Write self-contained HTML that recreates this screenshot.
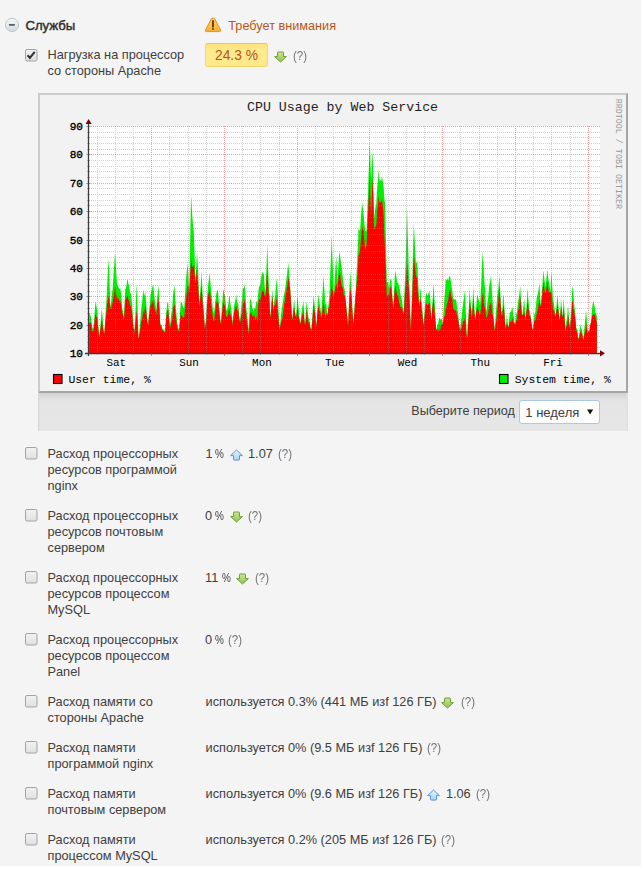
<!DOCTYPE html>
<html><head><meta charset="utf-8"><title>Службы</title>
<style>
html,body{margin:0;padding:0}
body{width:641px;height:869px;overflow:hidden;position:relative;background:#fff;font-family:"Liberation Sans",sans-serif}
.page{position:absolute;left:0;top:0;width:641px;height:866px;background:#f4f4f4}
.t{position:absolute;white-space:nowrap}
.ab{position:absolute}
.chart{position:absolute;left:0;top:0}
</style></head>
<body><div class="page"></div>
<svg class="ab" style="left:4px;top:17px" width="16" height="16" viewBox="0 0 16 16"><defs><linearGradient id="mg" x1="0" y1="0" x2="0" y2="1"><stop offset="0" stop-color="#f4f7f9"/><stop offset="1" stop-color="#d3dbe1"/></linearGradient></defs><circle cx="8" cy="7.9" r="6.6" fill="url(#mg)" stroke="#bcc6ce" stroke-width="1"/><rect x="5" y="7" width="5.8" height="1.8" fill="#5a626b"/></svg><div class="t " style="left:25.40px;top:17.63px;font-size:13.2px;line-height:16px;color:#2f2f2f;font-weight:normal;-webkit-text-stroke:0.45px #2f2f2f;">Службы</div>
<svg class="ab" style="left:204px;top:17px" width="18" height="16" viewBox="0 0 18 16"><defs><linearGradient id="wg" x1="0" y1="0" x2="0" y2="1"><stop offset="0" stop-color="#fdd86c"/><stop offset="1" stop-color="#f3ad36"/></linearGradient></defs><path d="M7.4,1.6 Q9,0.4 10.6,1.6 L16.6,13.2 Q16.8,14.6 15.6,14.6 H2.4 Q1.2,14.6 1.4,13.2 Z" fill="url(#wg)" stroke="#e1931f" stroke-width="1"/><rect x="8.1" y="3.3" width="1.8" height="7" fill="#7a2a05"/><rect x="8.1" y="11.2" width="1.8" height="1.5" fill="#6a2000"/></svg><div class="t " style="left:228.30px;top:17.80px;font-size:12.7px;line-height:16px;color:#b9581a;font-weight:normal;">Требует внимания</div>
<svg class="ab" style="left:25px;top:49px" width="13" height="13" viewBox="0 0 13 13"><defs><linearGradient id="cb25_49" x1="0" y1="0" x2="0" y2="1"><stop offset="0" stop-color="#f2f2f2"/><stop offset="1" stop-color="#e0e0e0"/></linearGradient></defs><rect x="0.5" y="0.5" width="11.5" height="11.5" rx="1.6" fill="url(#cb25_49)" stroke="#a2a2a2" stroke-width="1"/><path d="M2.6,6.3 L4.9,8.9 L9.7,2.9" stroke="#333" stroke-width="2.1" fill="none" stroke-linecap="butt" stroke-linejoin="miter"/></svg><div class="t " style="left:47.50px;top:47.48px;font-size:12.75px;line-height:16px;color:#404040;font-weight:normal;">Нагрузка на процессор</div>
<div class="t " style="left:47.50px;top:63.48px;font-size:12.75px;line-height:16px;color:#404040;font-weight:normal;">со стороны Apache</div>
<div class="ab" style="left:205px;top:43px;width:61px;height:22px;background:linear-gradient(#ffe27a,#ffea8e 30%,#ffe98a);border:1px solid #f6d66e;border-top-color:#efc24a;border-radius:3px"></div><div class="t " style="left:215.00px;top:47.62px;font-size:13.8px;line-height:16px;color:#bb5414;font-weight:normal;">24.3 %</div>
<svg class="ab" style="left:274px;top:51px" width="14" height="13" viewBox="0 0 14 13"><defs><linearGradient id="dg274_51" x1="0" y1="0" x2="0" y2="1"><stop offset="0" stop-color="#cbe795"/><stop offset="1" stop-color="#8fc252"/></linearGradient></defs><path d="M3.5,1.6 Q3.5,1 4.2,1 H8.8 Q9.5,1 9.5,1.6 V5.6 H12.4 L6.5,11 L0.6,5.6 H3.5 Z" fill="url(#dg274_51)" stroke="#6f9d36" stroke-width="1" stroke-linejoin="round"/></svg><div class="t " style="left:292.60px;top:47.98px;font-size:12.75px;line-height:16px;color:#707378;font-weight:normal;transform:scaleX(0.9);transform-origin:0 0;">(?)</div>
<svg class="chart" width="641" height="869" viewBox="0 0 641 869">
<defs><linearGradient id="pshade" x1="0" y1="0" x2="0" y2="1"><stop offset="0" stop-color="#d2d2d2"/><stop offset="0.2" stop-color="#e4e4e4"/><stop offset="1" stop-color="#e7e7e7"/></linearGradient></defs>
<rect x="38" y="93" width="590" height="338" fill="#e6e6e6"/>
<rect x="38" y="393" width="590" height="38" fill="url(#pshade)"/>
<rect x="38" y="393" width="1.5" height="38" fill="#dadada"/><rect x="626.5" y="393" width="1.5" height="38" fill="#e0e0e0"/>
<rect x="38" y="93" width="590" height="300" fill="#a5a5a5"/>
<path d="M38,93 H628 L626,95 H40 V391 L38,393 Z" fill="#cbcbcb"/>
<rect x="40" y="95" width="586" height="296" fill="#f2f2f2"/>
<rect x="89.0" y="126.0" width="511.0" height="227.0" fill="#ffffff"/>
<defs><filter id="soft" x="-2%" y="-2%" width="104%" height="104%"><feGaussianBlur stdDeviation="0.35"/></filter><clipPath id="pc"><rect x="89.0" y="106.0" width="511.0" height="247.0"/></clipPath></defs>
<g clip-path="url(#pc)"><g filter="url(#soft)"><path d="M89.2,353.0 L89.2,313.2 L89.9,313.8 L90.2,314.7 L91.2,318.0 L92.2,327.3 L93.0,328.8 L93.2,329.2 L94.2,318.5 L95.2,304.7 L96.0,301.0 L96.2,304.4 L97.2,310.8 L98.2,323.8 L99.2,337.6 L99.2,337.5 L100.2,327.7 L101.2,315.8 L101.8,308.8 L102.2,312.0 L103.2,325.2 L104.2,333.1 L104.2,335.0 L105.2,318.6 L106.2,304.2 L106.8,293.8 L107.2,284.3 L108.2,265.2 L108.6,258.8 L109.2,272.4 L110.2,300.7 L110.5,307.5 L111.2,302.1 L112.2,289.6 L112.4,292.5 L113.2,279.9 L114.2,265.7 L114.9,253.8 L115.2,254.3 L116.2,271.5 L117.2,285.7 L117.4,285.0 L118.2,286.6 L119.2,289.3 L120.2,288.5 L120.5,290.0 L121.2,294.4 L122.2,308.6 L123.2,311.8 L123.6,318.8 L124.2,312.5 L125.2,289.3 L125.5,288.8 L126.2,287.1 L127.2,280.3 L128.0,280.0 L128.2,283.3 L129.2,285.9 L130.2,293.3 L131.1,293.8 L131.2,296.2 L132.2,304.7 L133.2,323.4 L134.2,329.6 L134.2,335.0 L135.2,317.4 L136.2,294.6 L136.8,283.8 L137.2,294.2 L138.2,328.1 L138.6,338.8 L139.2,333.0 L140.2,321.7 L141.2,309.2 L142.2,302.2 L143.0,291.2 L143.2,289.6 L144.2,296.3 L145.2,291.5 L145.5,295.0 L146.2,303.1 L147.2,318.5 L148.0,325.0 L148.2,325.1 L149.2,308.9 L150.2,301.1 L150.5,295.0 L151.2,292.6 L152.2,287.7 L153.0,283.8 L153.2,285.0 L154.2,294.7 L155.2,303.2 L156.1,308.8 L156.2,312.2 L157.2,297.4 L158.2,288.8 L158.6,285.0 L159.2,296.9 L160.2,322.7 L160.5,325.0 L161.2,323.7 L162.2,328.7 L163.2,328.6 L164.2,331.8 L164.2,331.2 L165.2,327.9 L166.2,312.2 L167.2,303.8 L167.4,302.5 L168.2,302.6 L169.2,318.5 L170.2,324.0 L171.2,314.9 L172.2,307.9 L173.2,293.3 L174.2,287.2 L174.5,285.3 L175.2,297.3 L176.2,310.9 L177.2,322.2 L178.2,327.8 L179.0,329.6 L179.2,326.9 L180.2,310.6 L180.9,300.0 L181.2,302.5 L182.2,303.2 L183.2,308.4 L183.7,307.4 L184.2,307.5 L185.2,291.5 L186.2,277.8 L187.2,266.1 L187.4,263.2 L188.2,272.1 L189.2,290.8 L190.2,239.9 L191.0,196.8 L191.2,197.0 L192.2,214.6 L193.2,227.6 L193.8,231.9 L194.2,242.9 L195.2,272.2 L195.6,281.6 L196.2,267.1 L197.1,250.3 L197.2,255.0 L198.2,273.6 L199.2,302.9 L199.3,305.6 L200.2,292.2 L201.2,278.7 L201.5,270.6 L202.2,285.2 L203.2,303.3 L204.2,315.8 L204.9,329.6 L205.2,326.1 L206.2,316.6 L207.2,295.9 L208.2,284.5 L209.2,276.8 L209.5,272.4 L210.2,280.1 L211.2,291.2 L212.2,301.9 L213.2,313.0 L214.2,311.5 L215.2,301.9 L216.2,294.4 L217.2,289.4 L217.8,290.8 L218.2,292.7 L219.2,306.7 L220.2,317.4 L220.5,322.2 L221.2,317.8 L222.2,303.2 L223.2,289.8 L223.3,289.0 L224.2,293.2 L225.2,296.7 L226.2,308.5 L227.0,311.1 L227.2,310.1 L228.2,305.2 L229.2,296.1 L229.8,296.4 L230.2,302.5 L231.2,308.7 L232.2,317.6 L232.5,324.0 L233.2,315.8 L234.2,305.3 L235.2,301.1 L236.2,294.5 L237.2,303.1 L238.2,303.5 L239.2,316.1 L239.9,320.3 L240.2,318.7 L241.2,307.2 L242.2,297.5 L242.7,289.0 L243.2,288.5 L244.2,286.4 L244.5,283.5 L245.2,290.9 L246.2,307.3 L247.2,315.5 L248.2,323.9 L248.7,331.7 L249.2,322.6 L250.0,297.2 L250.2,299.3 L251.2,300.4 L252.2,307.3 L253.2,310.9 L253.5,312.3 L254.2,307.9 L255.2,308.9 L256.2,301.9 L257.0,301.3 L257.2,305.6 L258.2,293.6 L259.0,286.1 L259.2,286.7 L260.2,285.1 L261.1,277.8 L261.2,277.5 L262.2,271.4 L263.2,274.4 L263.9,272.3 L264.2,280.6 L265.2,292.3 L265.3,297.2 L266.2,274.2 L267.2,246.4 L267.3,244.7 L268.2,272.0 L269.2,289.8 L270.1,315.1 L270.2,317.6 L271.2,305.4 L272.2,288.9 L273.2,302.8 L273.6,311.0 L274.2,300.4 L275.2,295.2 L276.2,284.0 L277.0,277.8 L277.2,282.9 L278.2,303.7 L279.2,322.1 L279.5,328.9 L280.2,323.2 L281.2,313.4 L282.2,306.2 L282.5,304.0 L283.2,299.9 L284.2,293.7 L285.2,289.0 L285.3,287.5 L286.2,281.1 L287.2,272.9 L288.0,265.4 L288.2,262.8 L289.2,272.8 L289.4,276.4 L290.2,286.3 L291.2,301.7 L292.2,319.3 L293.2,309.2 L294.2,299.1 L294.3,299.9 L295.2,311.7 L295.7,316.5 L296.2,314.2 L297.2,299.9 L297.7,294.4 L298.2,303.8 L299.2,314.1 L300.2,323.4 L301.2,315.5 L302.2,307.6 L303.2,302.0 L303.3,299.9 L304.2,312.7 L304.9,323.4 L305.2,322.4 L306.2,307.6 L306.7,301.3 L307.2,304.8 L308.2,316.3 L308.8,319.3 L309.2,318.2 L310.2,325.1 L311.2,329.6 L311.5,328.9 L312.2,319.3 L313.2,301.4 L313.6,294.4 L314.2,300.7 L315.2,310.3 L316.2,323.9 L316.4,326.2 L317.2,312.5 L318.2,296.1 L318.4,294.4 L319.2,301.2 L320.2,306.3 L321.2,313.7 L322.2,299.3 L323.2,279.2 L323.3,275.0 L324.2,287.0 L325.2,303.0 L325.4,304.0 L326.2,302.7 L327.2,311.9 L328.0,313.4 L328.2,307.0 L329.2,298.0 L329.3,298.2 L330.2,275.0 L331.2,250.6 L331.8,233.7 L332.2,250.6 L333.2,278.3 L333.7,298.2 L334.2,287.2 L335.2,272.2 L336.2,255.1 L337.2,276.6 L337.5,281.7 L338.2,267.8 L339.2,254.1 L339.4,251.3 L340.2,256.5 L341.2,264.9 L341.3,264.0 L342.2,272.0 L343.2,280.9 L343.8,286.8 L344.2,287.3 L345.2,292.8 L345.7,299.4 L346.2,305.2 L347.2,315.3 L348.0,324.7 L348.2,320.8 L349.2,294.9 L350.2,270.3 L351.2,286.9 L352.0,300.7 L352.2,306.2 L353.2,322.5 L353.3,326.0 L354.2,312.0 L355.2,295.7 L355.8,289.3 L356.2,279.7 L357.2,260.6 L357.7,248.8 L358.2,239.5 L358.4,228.6 L359.2,230.5 L360.2,229.8 L360.3,227.3 L361.2,213.7 L362.2,202.0 L363.2,211.8 L363.4,212.2 L364.2,220.9 L365.2,231.8 L365.3,231.1 L366.2,231.4 L366.6,229.9 L367.2,214.2 L368.2,187.7 L368.5,176.7 L369.2,158.8 L369.8,142.5 L370.2,153.8 L371.0,178.0 L371.2,177.2 L372.2,156.3 L372.6,151.4 L373.2,177.8 L374.2,218.5 L375.2,208.9 L375.8,205.8 L376.2,204.2 L377.2,188.0 L378.2,177.5 L378.6,169.1 L379.2,176.4 L379.9,181.8 L380.2,179.5 L381.2,181.2 L381.8,176.7 L382.2,177.6 L383.2,185.0 L383.7,188.1 L384.2,197.3 L385.0,203.3 L385.2,210.5 L386.2,253.6 L386.9,283.0 L387.2,282.2 L388.2,281.8 L388.8,286.8 L389.2,288.4 L390.2,278.5 L391.2,280.8 L391.3,277.9 L392.2,292.2 L393.2,308.3 L394.2,288.0 L395.1,270.3 L395.2,270.9 L396.2,275.7 L397.2,282.0 L397.6,283.0 L398.2,282.8 L399.2,286.7 L400.0,290.2 L400.2,293.2 L401.2,296.7 L402.2,302.0 L403.2,311.1 L403.5,312.3 L404.2,298.1 L405.2,273.2 L405.5,268.1 L406.2,243.3 L406.9,206.2 L407.2,215.1 L408.2,250.0 L409.0,276.4 L409.2,281.4 L410.2,309.7 L411.0,331.7 L411.2,319.7 L412.2,284.6 L413.2,243.0 L413.8,223.7 L414.2,230.4 L415.2,251.6 L415.9,262.6 L416.2,263.7 L417.2,259.5 L417.3,262.6 L418.2,282.2 L419.2,301.7 L419.3,304.0 L420.2,291.5 L420.7,287.5 L421.2,298.0 L422.2,307.1 L423.2,322.9 L423.5,323.4 L424.2,316.6 L425.2,302.2 L425.6,297.2 L426.2,292.2 L427.2,296.2 L428.2,293.9 L429.2,291.4 L429.3,290.2 L430.2,298.8 L431.2,318.6 L431.5,319.3 L432.2,306.1 L433.2,290.0 L433.8,283.3 L434.2,294.9 L435.2,311.3 L436.2,330.3 L437.2,325.3 L438.2,323.7 L439.2,316.4 L439.4,317.9 L440.2,319.8 L441.2,317.9 L442.2,321.2 L442.8,323.4 L443.2,316.8 L444.2,300.5 L445.2,288.6 L445.6,279.2 L446.2,280.7 L447.2,278.3 L448.2,280.8 L449.2,276.6 L449.7,276.4 L450.2,276.3 L451.2,284.4 L452.2,289.7 L453.2,298.5 L454.2,299.5 L455.2,299.0 L456.2,300.5 L456.4,301.3 L457.2,308.3 L458.2,313.2 L459.2,324.1 L460.1,328.9 L460.2,328.8 L461.2,320.7 L462.2,310.5 L463.2,302.5 L464.2,296.2 L464.9,290.2 L465.2,294.4 L466.2,321.5 L467.0,338.6 L467.2,336.3 L468.2,317.2 L469.2,300.5 L469.8,287.5 L470.2,297.2 L471.2,308.0 L471.8,317.9 L472.2,310.6 L473.2,286.1 L474.2,303.9 L475.2,317.7 L475.3,319.3 L476.2,307.0 L477.2,294.3 L477.3,294.4 L478.2,298.1 L479.2,301.8 L480.0,305.4 L480.2,302.6 L481.2,283.8 L482.2,260.6 L482.8,251.6 L483.2,259.8 L484.2,279.0 L485.2,291.0 L486.2,312.3 L487.2,305.2 L488.2,297.0 L488.3,295.8 L489.2,285.5 L490.2,281.2 L491.0,275.0 L491.2,278.9 L492.2,295.0 L493.2,308.8 L494.2,323.3 L494.5,328.9 L495.2,323.5 L496.2,308.5 L496.6,304.0 L497.2,296.5 L498.2,289.7 L499.2,277.5 L499.3,273.7 L500.2,290.7 L501.2,308.9 L501.4,312.3 L502.2,310.7 L503.2,295.7 L503.5,294.4 L504.2,303.6 L505.2,323.6 L505.6,328.9 L506.2,323.1 L506.9,313.7 L507.2,318.6 L508.2,326.3 L508.3,328.9 L509.2,318.2 L509.7,313.7 L510.2,312.6 L511.2,311.2 L512.2,307.6 L512.5,306.8 L513.2,315.3 L514.2,318.1 L514.5,323.4 L515.2,324.5 L516.2,314.1 L517.2,310.9 L517.3,308.2 L518.2,301.4 L519.2,295.3 L520.2,285.8 L520.3,287.5 L521.2,301.9 L522.1,316.5 L522.2,315.1 L523.2,308.1 L524.2,298.5 L525.2,312.3 L525.6,320.6 L526.2,311.0 L527.2,295.4 L527.7,287.5 L528.2,297.4 L529.2,307.5 L529.7,316.5 L530.2,313.3 L531.2,321.6 L532.2,327.6 L532.8,330.3 L533.2,328.0 L534.2,314.6 L535.2,312.8 L536.2,303.6 L536.6,298.5 L537.2,296.0 L538.2,291.9 L539.2,285.1 L539.4,282.0 L540.2,297.8 L540.8,306.8 L541.2,301.1 L542.2,288.5 L543.2,271.2 L543.4,271.0 L544.2,277.5 L545.2,285.7 L545.5,287.0 L546.2,280.4 L547.2,270.4 L547.4,269.4 L548.2,277.9 L549.1,283.3 L549.2,283.3 L550.2,289.5 L550.4,291.3 L551.2,277.1 L551.5,270.7 L552.2,284.9 L553.1,301.1 L553.2,299.4 L554.2,305.6 L555.2,312.7 L555.9,314.2 L556.2,309.2 L557.2,297.2 L557.5,295.6 L558.2,302.9 L559.2,314.7 L559.5,319.7 L560.2,314.4 L561.0,297.8 L561.2,299.5 L562.2,313.5 L562.4,316.4 L563.2,307.6 L563.5,297.8 L564.2,306.7 L565.2,324.3 L565.4,331.7 L566.2,322.4 L567.2,316.4 L567.9,306.6 L568.2,306.2 L569.2,320.8 L570.1,326.3 L570.2,323.0 L571.2,310.9 L572.2,289.8 L572.8,285.8 L573.2,292.3 L574.2,303.6 L575.2,313.3 L575.6,317.5 L576.2,327.7 L577.2,329.1 L578.2,339.5 L578.3,338.3 L579.2,335.0 L580.2,326.6 L580.5,324.1 L581.2,328.4 L582.2,330.2 L583.2,339.4 L584.2,329.9 L585.2,319.6 L586.0,311.0 L586.2,310.9 L587.2,324.6 L588.1,332.8 L588.2,330.9 L589.2,331.3 L590.2,324.7 L590.9,321.9 L591.2,319.6 L592.2,307.4 L593.1,301.1 L593.2,300.3 L594.2,304.6 L595.2,309.7 L595.3,313.1 L596.2,312.7 L596.9,316.4 L596.9,353.0 Z" fill="#00ee00"/><path d="M89.2,353.0 L89.2,322.4 L89.9,322.5 L90.2,322.5 L91.2,323.7 L92.2,331.3 L93.0,330.6 L93.2,332.0 L94.2,324.9 L95.2,315.3 L96.0,313.8 L96.2,316.8 L97.2,317.3 L98.2,327.5 L99.2,337.8 L99.2,337.5 L100.2,331.0 L101.2,323.9 L101.8,318.8 L102.2,321.8 L103.2,330.8 L104.2,333.2 L104.2,335.6 L105.2,324.1 L106.2,315.3 L106.8,307.5 L107.2,302.9 L108.2,298.4 L108.6,296.0 L109.2,298.5 L110.2,306.4 L110.5,308.8 L111.2,309.0 L112.2,301.6 L112.4,306.0 L113.2,299.1 L114.2,293.7 L114.9,287.5 L115.2,286.2 L116.2,295.0 L117.2,300.2 L117.4,297.5 L118.2,297.9 L119.2,301.2 L120.2,299.9 L120.5,302.5 L121.2,303.9 L122.2,313.1 L123.2,314.7 L123.6,320.0 L124.2,317.4 L125.2,296.8 L125.5,300.0 L126.2,299.1 L127.2,295.8 L128.0,296.2 L128.2,299.4 L129.2,300.6 L130.2,306.5 L131.1,305.0 L131.2,307.6 L132.2,313.2 L133.2,327.6 L134.2,329.6 L134.2,335.0 L135.2,325.8 L136.2,316.0 L136.8,310.0 L137.2,315.5 L138.2,333.6 L138.6,338.8 L139.2,336.5 L140.2,330.5 L141.2,321.4 L142.2,319.6 L143.0,312.5 L143.2,311.0 L144.2,312.9 L145.2,304.9 L145.5,307.5 L146.2,311.8 L147.2,321.6 L148.0,325.0 L148.2,325.1 L149.2,314.2 L150.2,310.6 L150.5,305.0 L151.2,304.5 L152.2,302.4 L153.0,300.0 L153.2,300.7 L154.2,306.1 L155.2,311.0 L156.1,312.5 L156.2,316.6 L157.2,304.6 L158.2,300.7 L158.6,297.5 L159.2,306.2 L160.2,323.5 L160.5,326.2 L161.2,325.2 L162.2,330.2 L163.2,330.4 L164.2,332.6 L164.2,332.5 L165.2,331.7 L166.2,318.0 L167.2,312.0 L167.4,311.2 L168.2,309.5 L169.2,323.0 L170.2,327.7 L171.2,322.8 L172.2,319.8 L173.2,307.0 L174.2,305.3 L174.5,303.8 L175.2,310.0 L176.2,320.0 L177.2,327.7 L178.2,329.9 L179.0,331.4 L179.2,330.9 L180.2,319.6 L180.9,313.0 L181.2,315.3 L182.2,315.9 L183.2,318.1 L183.7,316.7 L184.2,317.7 L185.2,306.5 L186.2,297.7 L187.2,289.8 L187.4,287.2 L188.2,285.0 L189.2,292.7 L190.2,276.1 L191.0,262.0 L191.2,258.7 L192.2,266.7 L193.2,266.8 L193.8,265.0 L194.2,268.1 L195.2,282.5 L195.6,283.5 L196.2,277.0 L197.1,268.7 L197.2,272.5 L198.2,284.9 L199.2,304.9 L199.3,307.4 L200.2,298.9 L201.2,289.2 L201.5,283.5 L202.2,296.8 L203.2,309.6 L204.2,319.4 L204.9,329.6 L205.2,327.2 L206.2,320.5 L207.2,303.0 L208.2,295.8 L209.2,290.1 L209.5,287.2 L210.2,294.2 L211.2,303.7 L212.2,312.1 L213.2,320.3 L214.2,321.0 L215.2,311.6 L216.2,303.2 L217.2,300.9 L217.8,301.9 L218.2,302.5 L219.2,312.9 L220.2,320.4 L220.5,324.0 L221.2,322.5 L222.2,312.6 L223.2,301.1 L223.3,301.9 L224.2,305.2 L225.2,305.4 L226.2,316.4 L227.0,316.7 L227.2,317.0 L228.2,313.6 L229.2,308.3 L229.8,311.1 L230.2,314.8 L231.2,316.1 L232.2,320.8 L232.5,325.9 L233.2,319.8 L234.2,311.7 L235.2,308.0 L236.2,305.6 L237.2,311.4 L238.2,308.9 L239.2,319.3 L239.9,322.2 L240.2,322.8 L241.2,316.2 L242.2,312.1 L242.7,305.6 L243.2,302.7 L244.2,302.6 L244.5,298.2 L245.2,303.2 L246.2,315.6 L247.2,324.7 L248.2,328.7 L248.7,334.5 L249.2,330.0 L250.0,312.3 L250.2,314.6 L251.2,311.7 L252.2,316.3 L253.2,315.9 L253.5,316.5 L254.2,314.5 L255.2,319.9 L256.2,316.0 L257.0,319.3 L257.2,324.0 L258.2,305.2 L259.0,297.2 L259.2,298.9 L260.2,300.5 L261.1,295.8 L261.2,295.9 L262.2,290.2 L263.2,291.7 L263.9,290.2 L264.2,296.5 L265.2,294.2 L265.3,298.5 L266.2,286.3 L267.2,269.2 L267.3,269.5 L268.2,289.7 L269.2,296.6 L270.1,315.1 L270.2,318.8 L271.2,309.7 L272.2,295.8 L273.2,305.9 L273.6,312.3 L274.2,304.5 L275.2,306.1 L276.2,300.0 L277.0,298.5 L277.2,302.4 L278.2,315.4 L279.2,326.5 L279.5,330.3 L280.2,326.8 L281.2,321.9 L282.2,319.0 L282.5,317.9 L283.2,312.9 L284.2,303.9 L285.2,299.8 L285.3,297.2 L286.2,292.5 L287.2,285.7 L288.0,280.6 L288.2,277.1 L289.2,282.7 L289.4,284.7 L290.2,290.3 L291.2,306.9 L292.2,320.6 L293.2,312.7 L294.2,307.6 L294.3,308.2 L295.2,314.8 L295.7,316.5 L296.2,318.0 L297.2,309.7 L297.7,306.8 L298.2,314.9 L299.2,318.9 L300.2,324.8 L301.2,320.2 L302.2,315.3 L303.2,312.2 L303.3,309.6 L304.2,319.9 L304.9,324.8 L305.2,324.8 L306.2,316.3 L306.7,309.6 L307.2,312.9 L308.2,321.6 L308.8,323.4 L309.2,321.8 L310.2,328.0 L311.2,330.0 L311.5,328.9 L312.2,323.0 L313.2,309.2 L313.6,304.0 L314.2,309.1 L315.2,314.6 L316.2,324.5 L316.4,327.5 L317.2,315.9 L318.2,306.6 L318.4,305.4 L319.2,310.2 L320.2,311.7 L321.2,317.9 L322.2,313.8 L323.2,302.4 L323.3,299.9 L324.2,305.6 L325.2,318.7 L325.4,317.9 L326.2,312.7 L327.2,315.5 L328.0,314.6 L328.2,308.7 L329.2,306.2 L329.3,308.3 L330.2,298.5 L331.2,289.1 L331.8,280.4 L332.2,288.7 L333.2,291.1 L333.7,299.4 L334.2,292.8 L335.2,289.4 L336.2,283.0 L337.2,288.1 L337.5,290.0 L338.2,280.0 L339.2,271.7 L339.4,270.3 L340.2,274.8 L341.2,284.2 L341.3,283.0 L342.2,286.8 L343.2,289.8 L343.8,295.6 L344.2,294.8 L345.2,297.2 L345.7,302.0 L346.2,306.3 L347.2,316.8 L348.0,326.0 L348.2,324.0 L349.2,303.8 L350.2,286.8 L351.2,294.9 L352.0,302.0 L352.2,307.8 L353.2,322.6 L353.3,327.3 L354.2,314.4 L355.2,300.7 L355.8,295.6 L356.2,289.3 L357.2,277.7 L357.7,270.3 L358.2,264.2 L358.4,255.0 L359.2,254.4 L360.2,248.4 L360.3,247.6 L361.2,235.9 L362.2,226.0 L363.2,231.5 L363.4,228.6 L364.2,239.0 L365.2,250.4 L365.3,248.9 L366.2,246.4 L366.6,243.8 L367.2,230.8 L368.2,210.3 L368.5,202.0 L369.2,191.5 L369.8,178.0 L370.2,190.2 L371.0,216.0 L371.2,213.8 L372.2,186.0 L372.6,178.0 L373.2,199.4 L374.2,229.9 L375.2,227.3 L375.8,226.0 L376.2,225.4 L377.2,211.1 L378.2,202.5 L378.6,195.7 L379.2,200.3 L379.9,203.3 L380.2,201.6 L381.2,202.7 L381.8,198.2 L382.2,201.2 L383.2,211.5 L383.7,216.0 L384.2,233.4 L385.0,250.0 L385.2,255.9 L386.2,281.1 L386.9,298.2 L387.2,296.3 L388.2,294.1 L388.8,295.6 L389.2,296.1 L390.2,285.9 L391.2,289.3 L391.3,286.8 L392.2,297.2 L393.2,309.6 L394.2,296.4 L395.1,286.8 L395.2,285.9 L396.2,290.8 L397.2,295.0 L397.6,295.6 L398.2,296.2 L399.2,302.4 L400.0,305.4 L400.2,307.5 L401.2,306.6 L402.2,308.2 L403.2,314.1 L403.5,313.7 L404.2,307.1 L405.2,288.7 L405.5,286.1 L406.2,278.9 L406.9,262.6 L407.2,265.5 L408.2,280.4 L409.0,290.2 L409.2,294.3 L410.2,316.7 L411.0,333.0 L411.2,322.4 L412.2,298.4 L413.2,269.4 L413.8,255.7 L414.2,258.6 L415.2,269.7 L415.9,273.7 L416.2,276.5 L417.2,278.3 L417.3,282.0 L418.2,293.7 L419.2,306.0 L419.3,306.8 L420.2,300.1 L420.7,298.5 L421.2,306.8 L422.2,312.8 L423.2,325.6 L423.5,324.8 L424.2,320.2 L425.2,310.2 L425.6,306.8 L426.2,303.3 L427.2,304.9 L428.2,304.5 L429.2,302.8 L429.3,301.3 L430.2,305.2 L431.2,319.6 L431.5,319.3 L432.2,309.5 L433.2,301.5 L433.8,298.5 L434.2,307.9 L435.2,319.6 L436.2,330.3 L437.2,328.6 L438.2,331.9 L439.2,327.0 L439.4,330.3 L440.2,329.9 L441.2,324.3 L442.2,325.0 L442.8,324.8 L443.2,322.3 L444.2,317.3 L445.2,314.5 L445.6,309.6 L446.2,308.0 L447.2,302.8 L448.2,300.3 L449.2,292.6 L449.7,290.2 L450.2,289.5 L451.2,296.8 L452.2,298.8 L453.2,308.2 L454.2,309.8 L455.2,310.3 L456.2,310.9 L456.4,312.3 L457.2,315.9 L458.2,319.5 L459.2,327.6 L460.1,330.3 L460.2,330.1 L461.2,329.6 L462.2,325.4 L463.2,320.9 L464.2,321.0 L464.9,317.9 L465.2,316.3 L466.2,332.7 L467.0,338.6 L467.2,339.5 L468.2,322.7 L469.2,310.6 L469.8,299.9 L470.2,306.4 L471.2,309.6 L471.8,319.3 L472.2,314.4 L473.2,297.2 L474.2,312.3 L475.2,319.2 L475.3,320.6 L476.2,312.6 L477.2,306.7 L477.3,306.8 L478.2,309.7 L479.2,313.1 L480.0,315.1 L480.2,314.5 L481.2,307.0 L482.2,296.5 L482.8,293.0 L483.2,296.1 L484.2,305.9 L485.2,308.6 L486.2,317.9 L487.2,316.8 L488.2,312.9 L488.3,312.3 L489.2,306.1 L490.2,304.4 L491.0,301.3 L491.2,303.8 L492.2,312.4 L493.2,317.6 L494.2,327.5 L494.5,330.3 L495.2,328.8 L496.2,321.4 L496.6,317.9 L497.2,310.8 L498.2,302.8 L499.2,289.4 L499.3,286.1 L500.2,298.9 L501.2,313.6 L501.4,315.1 L502.2,316.1 L503.2,306.0 L503.5,305.4 L504.2,311.3 L505.2,325.4 L505.6,328.9 L506.2,326.2 L506.9,323.4 L507.2,324.9 L508.2,326.5 L508.3,328.9 L509.2,324.3 L509.7,322.0 L510.2,321.1 L511.2,322.4 L512.2,318.7 L512.5,317.9 L513.2,322.8 L514.2,321.9 L514.5,323.4 L515.2,325.1 L516.2,320.3 L517.2,320.8 L517.3,317.9 L518.2,310.6 L519.2,306.7 L520.2,295.8 L520.3,298.5 L521.2,305.7 L522.1,316.5 L522.2,315.3 L523.2,314.7 L524.2,312.3 L525.2,315.9 L525.6,320.6 L526.2,314.0 L527.2,305.5 L527.7,299.9 L528.2,308.2 L529.2,310.3 L529.7,316.5 L530.2,314.9 L531.2,321.6 L532.2,327.6 L532.8,330.3 L533.2,329.6 L534.2,320.4 L535.2,320.8 L536.2,317.4 L536.6,313.7 L537.2,311.9 L538.2,307.7 L539.2,301.1 L539.4,298.5 L540.2,304.1 L540.8,306.8 L541.2,304.5 L542.2,295.0 L543.2,282.0 L543.4,283.4 L544.2,288.4 L545.2,293.2 L545.5,293.2 L546.2,290.3 L547.2,282.1 L547.4,282.3 L548.2,289.3 L549.1,293.0 L549.2,291.8 L550.2,292.5 L550.4,292.4 L551.2,292.2 L551.5,292.5 L552.2,301.7 L553.1,311.0 L553.2,309.6 L554.2,311.8 L555.2,317.1 L555.9,315.3 L556.2,312.1 L557.2,306.6 L557.5,304.4 L558.2,310.1 L559.2,317.6 L559.5,320.8 L560.2,316.8 L561.0,306.6 L561.2,307.6 L562.2,315.2 L562.4,317.5 L563.2,314.4 L563.5,306.6 L564.2,313.4 L565.2,327.3 L565.4,332.8 L566.2,327.1 L567.2,325.5 L567.9,318.6 L568.2,315.2 L569.2,327.1 L570.1,327.4 L570.2,325.4 L571.2,318.3 L572.2,301.7 L572.8,301.1 L573.2,306.7 L574.2,311.3 L575.2,319.7 L575.6,321.9 L576.2,330.6 L577.2,331.6 L578.2,340.3 L578.3,339.4 L579.2,337.6 L580.2,331.9 L580.5,330.6 L581.2,332.9 L582.2,334.3 L583.2,340.5 L584.2,335.2 L585.2,330.9 L586.0,325.2 L586.2,323.8 L587.2,331.8 L588.1,333.9 L588.2,330.9 L589.2,332.6 L590.2,325.5 L590.9,323.0 L591.2,322.2 L592.2,315.5 L593.1,315.3 L593.2,313.5 L594.2,314.4 L595.2,315.1 L595.3,317.5 L596.2,318.7 L596.9,323.0 L596.9,353.0 Z" fill="#ff0000"/></g></g>
<path d="M89,347.5H600 M89,342.5H600 M89,336.5H600 M89,330.5H600 M89,319.5H600 M89,313.5H600 M89,308.5H600 M89,302.5H600 M89,291.5H600 M89,285.5H600 M89,279.5H600 M89,274.5H600 M89,262.5H600 M89,257.5H600 M89,251.5H600 M89,245.5H600 M89,234.5H600 M89,228.5H600 M89,222.5H600 M89,217.5H600 M89,205.5H600 M89,200.5H600 M89,194.5H600 M89,188.5H600 M89,177.5H600 M89,171.5H600 M89,166.5H600 M89,160.5H600 M89,149.5H600 M89,143.5H600 M89,137.5H600 M89,132.5H600 M97.5,126V353 M115.5,126V353 M133.5,126V353 M169.5,126V353 M188.5,126V353 M206.5,126V353 M242.5,126V353 M260.5,126V353 M279.5,126V353 M315.5,126V353 M333.5,126V353 M351.5,126V353 M388.5,126V353 M406.5,126V353 M424.5,126V353 M460.5,126V353 M479.5,126V353 M497.5,126V353 M533.5,126V353 M551.5,126V353 M570.5,126V353" stroke="#8f8f8f" stroke-opacity="0.42" stroke-width="1" stroke-dasharray="1,1" fill="none" shape-rendering="crispEdges"/>
<path d="M87,325.5H600 M87,296.5H600 M87,268.5H600 M87,240.5H600 M87,211.5H600 M87,183.5H600 M87,154.5H600 M87,126.5H600 M151.5,126V356 M224.5,126V356 M297.5,126V356 M369.5,126V356 M442.5,126V356 M515.5,126V356 M588.5,126V356" stroke="#f00000" stroke-opacity="0.38" stroke-width="1" stroke-dasharray="1,1" fill="none" shape-rendering="crispEdges"/>
<path d="M88.5,356.0 V122 M85,353.5 H601" stroke="#3a3a3a" stroke-width="1.3" fill="none"/>
<path d="M151.5,353V356 M224.5,353V356 M297.5,353V356 M369.5,353V356 M442.5,353V356 M515.5,353V356 M588.5,353V356" stroke="#e04040" stroke-width="1" stroke-opacity="0.6" fill="none" shape-rendering="crispEdges"/>
<path d="M86,353.5H91 M87,347.5H90 M87,342.5H90 M87,336.5H90 M87,330.5H90 M86,325.5H91 M87,319.5H90 M87,313.5H90 M87,308.5H90 M87,302.5H90 M86,296.5H91 M87,291.5H90 M87,285.5H90 M87,279.5H90 M87,274.5H90 M86,268.5H91 M87,262.5H90 M87,257.5H90 M87,251.5H90 M87,245.5H90 M86,240.5H91 M87,234.5H90 M87,228.5H90 M87,222.5H90 M87,217.5H90 M86,211.5H91 M87,205.5H90 M87,200.5H90 M87,194.5H90 M87,188.5H90 M86,183.5H91 M87,177.5H90 M87,171.5H90 M87,166.5H90 M87,160.5H90 M86,154.5H91 M87,149.5H90 M87,143.5H90 M87,137.5H90 M87,132.5H90 M86,126.5H91 M97.5,352V355 M115.5,352V355 M133.5,352V355 M169.5,352V355 M188.5,352V355 M206.5,352V355 M242.5,352V355 M260.5,352V355 M279.5,352V355 M315.5,352V355 M333.5,352V355 M351.5,352V355 M388.5,352V355 M406.5,352V355 M424.5,352V355 M460.5,352V355 M479.5,352V355 M497.5,352V355 M533.5,352V355 M551.5,352V355 M570.5,352V355" stroke="#444" stroke-width="1" stroke-opacity="0.3" fill="none" shape-rendering="crispEdges"/>
<path d="M85.6,124 L88.6,119 L91.6,124 Z" fill="#800000"/>
<path d="M600,350.2 L605,353.3 L600,356.4 Z" fill="#800000"/>
<g font-family="Liberation Mono, monospace" stroke="#000" stroke-width="0.35"><text x="83.00" y="357.00" font-size="11.1" fill="#000" text-anchor="end" >10</text>
<text x="83.00" y="328.62" font-size="11.1" fill="#000" text-anchor="end" >20</text>
<text x="83.00" y="300.25" font-size="11.1" fill="#000" text-anchor="end" >30</text>
<text x="83.00" y="271.88" font-size="11.1" fill="#000" text-anchor="end" >40</text>
<text x="83.00" y="243.50" font-size="11.1" fill="#000" text-anchor="end" >50</text>
<text x="83.00" y="215.12" font-size="11.1" fill="#000" text-anchor="end" >60</text>
<text x="83.00" y="186.75" font-size="11.1" fill="#000" text-anchor="end" >70</text>
<text x="83.00" y="158.38" font-size="11.1" fill="#000" text-anchor="end" >80</text>
<text x="83.00" y="130.00" font-size="11.1" fill="#000" text-anchor="end" >90</text>
</g>
<g font-family="Liberation Mono, monospace"><text x="116.30" y="366.20" font-size="10.9" fill="#000" text-anchor="middle" >Sat</text>
<text x="189.10" y="366.20" font-size="10.9" fill="#000" text-anchor="middle" >Sun</text>
<text x="261.90" y="366.20" font-size="10.9" fill="#000" text-anchor="middle" >Mon</text>
<text x="334.70" y="366.20" font-size="10.9" fill="#000" text-anchor="middle" >Tue</text>
<text x="407.50" y="366.20" font-size="10.9" fill="#000" text-anchor="middle" >Wed</text>
<text x="480.30" y="366.20" font-size="10.9" fill="#000" text-anchor="middle" >Thu</text>
<text x="553.10" y="366.20" font-size="10.9" fill="#000" text-anchor="middle" >Fri</text>
</g>
<g font-family="Liberation Mono, monospace"><text x="247.00" y="111.30" font-size="13.27" fill="#1e1e1e" text-anchor="start" >CPU Usage by Web Service</text>
</g>
<text transform="translate(616,98.8) rotate(90)" font-family="Liberation Mono, monospace" font-size="8.35" fill="#9a9a9a">RRDTOOL / TOBI OETIKER</text>
<rect x="53.5" y="374.5" width="8.5" height="9" fill="#ff0000" stroke="#000" stroke-width="1.1"/>
<rect x="499.5" y="374.5" width="8.5" height="9" fill="#00ee00" stroke="#000" stroke-width="1.1"/>
<g font-family="Liberation Mono, monospace"><text x="68.40" y="383.00" font-size="11.45" fill="#000" text-anchor="start" >User time, %</text>
<text x="514.70" y="383.00" font-size="11.45" fill="#000" text-anchor="start" >System time, %</text>
</g>
</svg><div class="t " style="left:411.30px;top:403.03px;font-size:12.6px;line-height:16px;color:#404040;font-weight:normal;">Выберите период</div>
<div class="ab" style="left:519px;top:400px;width:79px;height:22px;background:#fff;border:1px solid #a9c9e6;border-radius:3px;box-shadow:0 0 1px #d6e6f4"></div><div class="t " style="left:525.30px;top:405.10px;font-size:13px;line-height:16px;color:#404040;font-weight:normal;">1 неделя</div>
<svg class="ab" style="left:586px;top:409px" width="8" height="7" viewBox="0 0 8 7"><path d="M1,0.4 H7.2 L4.1,5.6 Z" fill="#111"/></svg><svg class="ab" style="left:25px;top:447px" width="13" height="13" viewBox="0 0 13 13"><defs><linearGradient id="cb25_447" x1="0" y1="0" x2="0" y2="1"><stop offset="0" stop-color="#f2f2f2"/><stop offset="1" stop-color="#e0e0e0"/></linearGradient></defs><rect x="0.5" y="0.5" width="11.5" height="11.5" rx="1.6" fill="url(#cb25_447)" stroke="#a2a2a2" stroke-width="1"/></svg><div class="t " style="left:47.50px;top:445.58px;font-size:12.75px;line-height:16px;color:#404040;font-weight:normal;">Расход процессорных</div>
<div class="t " style="left:47.50px;top:461.58px;font-size:12.75px;line-height:16px;color:#404040;font-weight:normal;">ресурсов программой</div>
<div class="t " style="left:47.50px;top:477.58px;font-size:12.75px;line-height:16px;color:#404040;font-weight:normal;">nginx</div>
<div class="t " style="left:205.60px;top:445.58px;font-size:12.75px;line-height:16px;color:#404040;font-weight:normal;">1</div>
<div class="t " style="left:215.20px;top:445.58px;font-size:12.75px;line-height:16px;color:#404040;font-weight:normal;transform:scaleX(0.78);transform-origin:0 0;">%</div>
<svg class="ab" style="left:230px;top:449px" width="14" height="13" viewBox="0 0 14 13"><defs><linearGradient id="ug230_449" x1="0" y1="0" x2="0" y2="1"><stop offset="0" stop-color="#e4f3fd"/><stop offset="1" stop-color="#a6d4f5"/></linearGradient></defs><path d="M6.5,1 L12.4,6.6 H9.5 V10.4 Q9.5,11.1 8.8,11.1 H4.2 Q3.5,11.1 3.5,10.4 V6.6 H0.6 Z" fill="url(#ug230_449)" stroke="#5d97c7" stroke-width="1" stroke-linejoin="round"/></svg><div class="t " style="left:248.00px;top:445.58px;font-size:12.75px;line-height:16px;color:#404040;font-weight:normal;">1.07</div>
<div class="t " style="left:278.20px;top:445.58px;font-size:12.75px;line-height:16px;color:#707378;font-weight:normal;transform:scaleX(0.9);transform-origin:0 0;">(?)</div>
<svg class="ab" style="left:25px;top:509px" width="13" height="13" viewBox="0 0 13 13"><defs><linearGradient id="cb25_509" x1="0" y1="0" x2="0" y2="1"><stop offset="0" stop-color="#f2f2f2"/><stop offset="1" stop-color="#e0e0e0"/></linearGradient></defs><rect x="0.5" y="0.5" width="11.5" height="11.5" rx="1.6" fill="url(#cb25_509)" stroke="#a2a2a2" stroke-width="1"/></svg><div class="t " style="left:47.50px;top:507.58px;font-size:12.75px;line-height:16px;color:#404040;font-weight:normal;">Расход процессорных</div>
<div class="t " style="left:47.50px;top:523.58px;font-size:12.75px;line-height:16px;color:#404040;font-weight:normal;">ресурсов почтовым</div>
<div class="t " style="left:47.50px;top:539.58px;font-size:12.75px;line-height:16px;color:#404040;font-weight:normal;">сервером</div>
<div class="t " style="left:205.00px;top:507.58px;font-size:12.75px;line-height:16px;color:#404040;font-weight:normal;">0</div>
<div class="t " style="left:215.20px;top:507.58px;font-size:12.75px;line-height:16px;color:#404040;font-weight:normal;transform:scaleX(0.78);transform-origin:0 0;">%</div>
<svg class="ab" style="left:230px;top:511px" width="14" height="13" viewBox="0 0 14 13"><defs><linearGradient id="dg230_511" x1="0" y1="0" x2="0" y2="1"><stop offset="0" stop-color="#cbe795"/><stop offset="1" stop-color="#8fc252"/></linearGradient></defs><path d="M3.5,1.6 Q3.5,1 4.2,1 H8.8 Q9.5,1 9.5,1.6 V5.6 H12.4 L6.5,11 L0.6,5.6 H3.5 Z" fill="url(#dg230_511)" stroke="#6f9d36" stroke-width="1" stroke-linejoin="round"/></svg><div class="t " style="left:248.00px;top:507.58px;font-size:12.75px;line-height:16px;color:#707378;font-weight:normal;transform:scaleX(0.9);transform-origin:0 0;">(?)</div>
<svg class="ab" style="left:25px;top:571px" width="13" height="13" viewBox="0 0 13 13"><defs><linearGradient id="cb25_571" x1="0" y1="0" x2="0" y2="1"><stop offset="0" stop-color="#f2f2f2"/><stop offset="1" stop-color="#e0e0e0"/></linearGradient></defs><rect x="0.5" y="0.5" width="11.5" height="11.5" rx="1.6" fill="url(#cb25_571)" stroke="#a2a2a2" stroke-width="1"/></svg><div class="t " style="left:47.50px;top:569.58px;font-size:12.75px;line-height:16px;color:#404040;font-weight:normal;">Расход процессорных</div>
<div class="t " style="left:47.50px;top:585.58px;font-size:12.75px;line-height:16px;color:#404040;font-weight:normal;">ресурсов процессом</div>
<div class="t " style="left:47.50px;top:601.58px;font-size:12.75px;line-height:16px;color:#404040;font-weight:normal;">MySQL</div>
<div class="t " style="left:205.00px;top:569.58px;font-size:12.75px;line-height:16px;color:#404040;font-weight:normal;">11</div>
<div class="t " style="left:222.10px;top:569.58px;font-size:12.75px;line-height:16px;color:#404040;font-weight:normal;transform:scaleX(0.78);transform-origin:0 0;">%</div>
<svg class="ab" style="left:236px;top:573px" width="14" height="13" viewBox="0 0 14 13"><defs><linearGradient id="dg236_573" x1="0" y1="0" x2="0" y2="1"><stop offset="0" stop-color="#cbe795"/><stop offset="1" stop-color="#8fc252"/></linearGradient></defs><path d="M3.5,1.6 Q3.5,1 4.2,1 H8.8 Q9.5,1 9.5,1.6 V5.6 H12.4 L6.5,11 L0.6,5.6 H3.5 Z" fill="url(#dg236_573)" stroke="#6f9d36" stroke-width="1" stroke-linejoin="round"/></svg><div class="t " style="left:255.00px;top:569.58px;font-size:12.75px;line-height:16px;color:#707378;font-weight:normal;transform:scaleX(0.9);transform-origin:0 0;">(?)</div>
<svg class="ab" style="left:25px;top:633px" width="13" height="13" viewBox="0 0 13 13"><defs><linearGradient id="cb25_633" x1="0" y1="0" x2="0" y2="1"><stop offset="0" stop-color="#f2f2f2"/><stop offset="1" stop-color="#e0e0e0"/></linearGradient></defs><rect x="0.5" y="0.5" width="11.5" height="11.5" rx="1.6" fill="url(#cb25_633)" stroke="#a2a2a2" stroke-width="1"/></svg><div class="t " style="left:47.50px;top:631.58px;font-size:12.75px;line-height:16px;color:#404040;font-weight:normal;">Расход процессорных</div>
<div class="t " style="left:47.50px;top:647.58px;font-size:12.75px;line-height:16px;color:#404040;font-weight:normal;">ресурсов процессом</div>
<div class="t " style="left:47.50px;top:663.58px;font-size:12.75px;line-height:16px;color:#404040;font-weight:normal;">Panel</div>
<div class="t " style="left:205.00px;top:631.58px;font-size:12.75px;line-height:16px;color:#404040;font-weight:normal;">0</div>
<div class="t " style="left:215.20px;top:631.58px;font-size:12.75px;line-height:16px;color:#404040;font-weight:normal;transform:scaleX(0.78);transform-origin:0 0;">%</div>
<div class="t " style="left:228.00px;top:631.58px;font-size:12.75px;line-height:16px;color:#707378;font-weight:normal;transform:scaleX(0.9);transform-origin:0 0;">(?)</div>
<svg class="ab" style="left:25px;top:695px" width="13" height="13" viewBox="0 0 13 13"><defs><linearGradient id="cb25_695" x1="0" y1="0" x2="0" y2="1"><stop offset="0" stop-color="#f2f2f2"/><stop offset="1" stop-color="#e0e0e0"/></linearGradient></defs><rect x="0.5" y="0.5" width="11.5" height="11.5" rx="1.6" fill="url(#cb25_695)" stroke="#a2a2a2" stroke-width="1"/></svg><div class="t " style="left:47.50px;top:693.58px;font-size:12.75px;line-height:16px;color:#404040;font-weight:normal;">Расход памяти со</div>
<div class="t " style="left:47.50px;top:709.58px;font-size:12.75px;line-height:16px;color:#404040;font-weight:normal;">стороны Apache</div>
<div class="t " style="left:205.60px;top:693.58px;font-size:12.75px;line-height:16px;color:#404040;font-weight:normal;">используется 0.3% (441 МБ изf 126 ГБ)</div>
<svg class="ab" style="left:441px;top:697px" width="14" height="13" viewBox="0 0 14 13"><defs><linearGradient id="dg441_697" x1="0" y1="0" x2="0" y2="1"><stop offset="0" stop-color="#cbe795"/><stop offset="1" stop-color="#8fc252"/></linearGradient></defs><path d="M3.5,1.6 Q3.5,1 4.2,1 H8.8 Q9.5,1 9.5,1.6 V5.6 H12.4 L6.5,11 L0.6,5.6 H3.5 Z" fill="url(#dg441_697)" stroke="#6f9d36" stroke-width="1" stroke-linejoin="round"/></svg><div class="t " style="left:460.50px;top:693.58px;font-size:12.75px;line-height:16px;color:#707378;font-weight:normal;transform:scaleX(0.9);transform-origin:0 0;">(?)</div>
<svg class="ab" style="left:25px;top:741px" width="13" height="13" viewBox="0 0 13 13"><defs><linearGradient id="cb25_741" x1="0" y1="0" x2="0" y2="1"><stop offset="0" stop-color="#f2f2f2"/><stop offset="1" stop-color="#e0e0e0"/></linearGradient></defs><rect x="0.5" y="0.5" width="11.5" height="11.5" rx="1.6" fill="url(#cb25_741)" stroke="#a2a2a2" stroke-width="1"/></svg><div class="t " style="left:47.50px;top:739.58px;font-size:12.75px;line-height:16px;color:#404040;font-weight:normal;">Расход памяти</div>
<div class="t " style="left:47.50px;top:755.58px;font-size:12.75px;line-height:16px;color:#404040;font-weight:normal;">программой nginx</div>
<div class="t " style="left:205.60px;top:739.58px;font-size:12.75px;line-height:16px;color:#404040;font-weight:normal;">используется 0% (9.5 МБ изf 126 ГБ)</div>
<div class="t " style="left:426.50px;top:739.58px;font-size:12.75px;line-height:16px;color:#707378;font-weight:normal;transform:scaleX(0.9);transform-origin:0 0;">(?)</div>
<svg class="ab" style="left:25px;top:787px" width="13" height="13" viewBox="0 0 13 13"><defs><linearGradient id="cb25_787" x1="0" y1="0" x2="0" y2="1"><stop offset="0" stop-color="#f2f2f2"/><stop offset="1" stop-color="#e0e0e0"/></linearGradient></defs><rect x="0.5" y="0.5" width="11.5" height="11.5" rx="1.6" fill="url(#cb25_787)" stroke="#a2a2a2" stroke-width="1"/></svg><div class="t " style="left:47.50px;top:785.58px;font-size:12.75px;line-height:16px;color:#404040;font-weight:normal;">Расход памяти</div>
<div class="t " style="left:47.50px;top:801.58px;font-size:12.75px;line-height:16px;color:#404040;font-weight:normal;">почтовым сервером</div>
<div class="t " style="left:205.60px;top:785.58px;font-size:12.75px;line-height:16px;color:#404040;font-weight:normal;">используется 0% (9.6 МБ изf 126 ГБ)</div>
<svg class="ab" style="left:427px;top:789px" width="14" height="13" viewBox="0 0 14 13"><defs><linearGradient id="ug427_789" x1="0" y1="0" x2="0" y2="1"><stop offset="0" stop-color="#e4f3fd"/><stop offset="1" stop-color="#a6d4f5"/></linearGradient></defs><path d="M6.5,1 L12.4,6.6 H9.5 V10.4 Q9.5,11.1 8.8,11.1 H4.2 Q3.5,11.1 3.5,10.4 V6.6 H0.6 Z" fill="url(#ug427_789)" stroke="#5d97c7" stroke-width="1" stroke-linejoin="round"/></svg><div class="t " style="left:445.90px;top:785.58px;font-size:12.75px;line-height:16px;color:#404040;font-weight:normal;">1.06</div>
<div class="t " style="left:476.00px;top:785.58px;font-size:12.75px;line-height:16px;color:#707378;font-weight:normal;transform:scaleX(0.9);transform-origin:0 0;">(?)</div>
<svg class="ab" style="left:25px;top:833px" width="13" height="13" viewBox="0 0 13 13"><defs><linearGradient id="cb25_833" x1="0" y1="0" x2="0" y2="1"><stop offset="0" stop-color="#f2f2f2"/><stop offset="1" stop-color="#e0e0e0"/></linearGradient></defs><rect x="0.5" y="0.5" width="11.5" height="11.5" rx="1.6" fill="url(#cb25_833)" stroke="#a2a2a2" stroke-width="1"/></svg><div class="t " style="left:47.50px;top:831.58px;font-size:12.75px;line-height:16px;color:#404040;font-weight:normal;">Расход памяти</div>
<div class="t " style="left:47.50px;top:847.58px;font-size:12.75px;line-height:16px;color:#404040;font-weight:normal;">процессом MySQL</div>
<div class="t " style="left:205.60px;top:831.58px;font-size:12.75px;line-height:16px;color:#404040;font-weight:normal;">используется 0.2% (205 МБ изf 126 ГБ)</div>
<div class="t " style="left:441.00px;top:831.58px;font-size:12.75px;line-height:16px;color:#707378;font-weight:normal;transform:scaleX(0.9);transform-origin:0 0;">(?)</div>

</body></html>
